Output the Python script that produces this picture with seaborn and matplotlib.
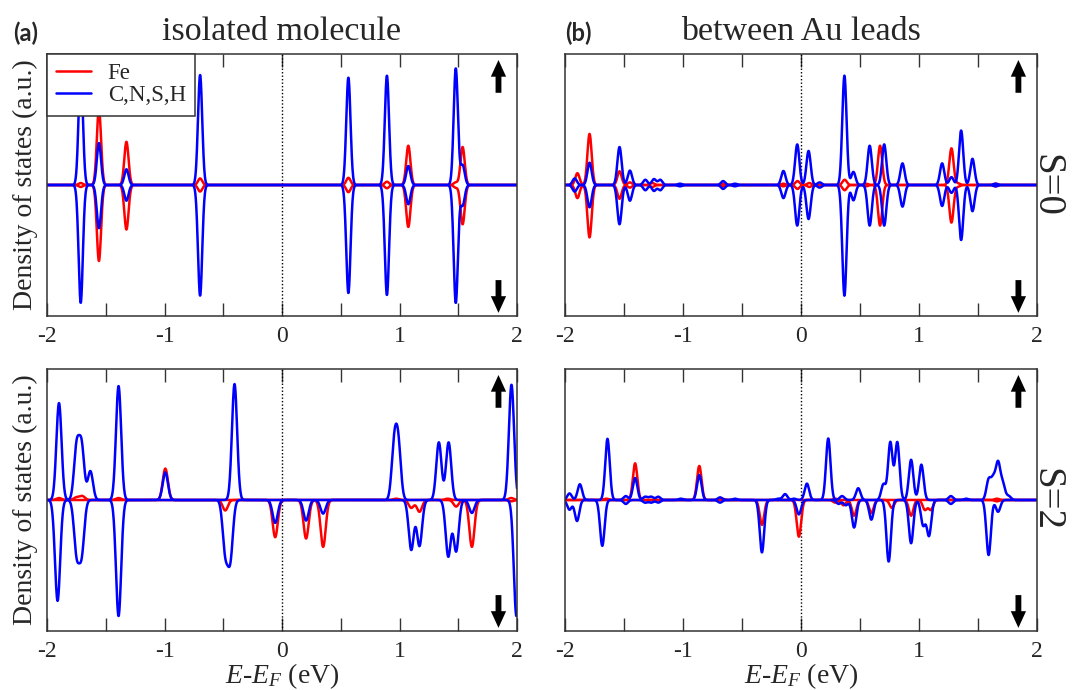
import numpy as np
import pandas as pd
import matplotlib
matplotlib.use("Agg")
import matplotlib.pyplot as plt
import seaborn as sns

# ---------------- data: peak energies (eV) and spin-up / spin-down weights ----------------
# (a) isolated molecule, S=0
a0_fe_E   = [-1.713, -1.558, -1.324, -0.697, 0.565, 0.893, 1.075, 1.479, 1.537]
a0_fe_up  = [0.015, 0.58, 0.33, 0.05, 0.055, 0.025, 0.30, 0.02, 0.29]
a0_fe_dn  = [0.015, 0.58, 0.34, 0.05, 0.055, 0.025, 0.32, 0.02, 0.30]
a0_org_E  = [-1.713, -1.558, -1.324, -0.697, 0.565, 0.893, 1.075, 1.479, 1.537]
a0_org_up = [0.90, 0.32, 0.12, 0.84, 0.82, 0.835, 0.145, 0.89, 0.15]
a0_org_dn = [0.90, 0.33, 0.12, 0.845, 0.825, 0.84, 0.147, 0.90, 0.155]

# (a) isolated molecule, S=2
a2_fe_E   = [-1.898, -1.75, -1.70, -1.391, -0.993, -0.483, -0.058, 0.205, 0.35, 0.972,
             1.10, 1.17, 1.41, 1.482, 1.616, 1.95]
a2_fe_up  = [0.015, 0.02, 0.03, 0.015, 0.24, 0.0, 0.0, 0.0, 0.0, 0.01,
             0.0, 0.0, 0.01, 0.0, 0.0, 0.015]
a2_fe_dn  = [0.0, 0.0, 0.0, 0.0, 0.0, 0.08, 0.284, 0.294, 0.358, 0.0,
             0.06, 0.09, 0.0, 0.05, 0.358, 0.01]
a2_org_E  = [-1.91, -1.898, -1.748, -1.705, -1.631, -1.391, -0.993, -0.483, -0.44, -0.404,
             -0.058, 0.205, 0.35, 0.955, 0.99, 1.10, 1.17, 1.335, 1.418, 1.415,
             1.482, 1.616, 1.953, 1.995]
a2_org_up = [0.0, 0.74, 0.40, 0.40, 0.22, 0.87, 0.21, 0.0, 0.0, 0.885,
             0.0, 0.0, 0.0, 0.40, 0.40, 0.0, 0.0, 0.44, 0.44, 0.0,
             0.0, 0.0, 0.88, 0.0]
a2_org_dn = [0.77, 0.0, 0.39, 0.39, 0.0, 0.886, 0.0, 0.38, 0.43, 0.0,
             0.175, 0.157, 0.104, 0.0, 0.0, 0.38, 0.35, 0.0, 0.0, 0.43,
             0.39, 0.099, 0.0, 0.886]

# (b) between Au leads, S=0
b0_fe_E   = [-1.895, -1.792, -1.538, -1.45, -1.26, -0.66, -0.15, -0.03, 0.07, 0.37,
             0.55, 0.67, 1.275, 1.33, 1.649]
b0_fe_up  = [0.09, 0.39, 0.105, 0.02, 0.015, 0.01, 0.01, 0.03, 0.015, 0.04,
             0.01, 0.30, 0.28, 0.012, 0.01]
b0_fe_dn  = [0.10, 0.40, 0.105, 0.02, 0.015, 0.01, 0.01, 0.03, 0.015, 0.04,
             0.01, 0.31, 0.287, 0.012, 0.01]
b0_org_E  = [-1.918, -1.792, -1.538, -1.45, -1.319, -1.246, -1.193, -1.026, -0.66, -0.56,
             -0.149, -0.032, 0.064, 0.158, 0.368, 0.444, 0.582, 0.705, 0.86, 1.196,
             1.275, 1.357, 1.453, 1.649]
b0_org_up = [0.05, 0.17, 0.29, 0.11, 0.04, 0.045, 0.04, 0.01, 0.03, 0.01,
             0.107, 0.31, 0.26, 0.02, 0.835, 0.10, 0.30, 0.31, 0.165, 0.165,
             0.06, 0.416, 0.20, 0.01]
b0_org_dn = [0.05, 0.17, 0.30, 0.12, 0.04, 0.045, 0.04, 0.01, 0.03, 0.01,
             0.10, 0.31, 0.26, 0.02, 0.845, 0.117, 0.31, 0.31, 0.165, 0.16,
             0.06, 0.42, 0.20, 0.01]

# (b) between Au leads, S=2
b2_fe_E   = [-1.65, -1.406, -0.862, -0.67, -0.331, -0.018, 0.29, 0.36, 0.45, 0.596,
             0.77, 0.933, 1.05, 1.10, 1.66]
b2_fe_up  = [0.01, 0.28, 0.26, 0.01, 0.0, 0.0, 0.01, 0.0, 0.0, 0.0,
             0.0, 0.0, 0.0, 0.0, 0.01]
b2_fe_dn  = [0.0, 0.0, 0.0, 0.0, 0.19, 0.28, 0.02, 0.04, 0.12, 0.10,
             0.06, 0.12, 0.075, 0.075, 0.01]
b2_org_E  = [-1.962, -1.898, -1.874, -1.684, -1.64, -1.485, -1.406, -1.32, -1.27, -1.21,
             -1.018, -0.862, -0.686, -0.56, -0.331, -0.193, -0.135, -0.06, -0.018, 0.05,
             0.231, 0.319, 0.348, 0.38, 0.45, 0.485, 0.596, 0.699, 0.743, 0.757,
             0.816, 0.933, 1.02, 1.035, 1.085, 1.27, 1.4, 1.59, 1.63, 1.67,
             1.71, 1.76]
b2_org_up = [0.05, 0.0, 0.12, 0.0, 0.467, 0.03, 0.168, 0.025, 0.025, 0.025,
             0.01, 0.19, 0.02, 0.01, 0.0, 0.01, 0.045, 0.01, 0.0, 0.125,
             0.47, 0.0, 0.03, 0.0, 0.0, 0.09, 0.0, 0.12, 0.0, 0.44,
             0.44, 0.307, 0.27, 0.0, 0.0, 0.03, 0.01, 0.15, 0.15, 0.27,
             0.12, 0.03]
b2_org_dn = [0.074, 0.16, 0.0, 0.35, 0.0, 0.03, 0.0, 0.02, 0.02, 0.02,
             0.0, 0.0, 0.02, 0.0, 0.40, 0.0, 0.0, 0.0, 0.11, 0.0,
             0.0, 0.03, 0.0, 0.04, 0.21, 0.0, 0.15, 0.0, 0.47, 0.0,
             0.0, 0.33, 0.0, 0.19, 0.27, 0.03, 0.0, 0.42, 0.0, 0.09,
             0.0, 0.0]

panel_titles = ["isolated molecule", "between Au leads"]
panel_tags = ["(a)", "(b)"]
spin_labels = ["S=0", "S=2"]
series_names = ["Fe", "C,N,S,H"]
xticks = [-2, -1, 0, 1, 2]
broadening = {"a0": 0.018, "a2": 0.022, "b0": 0.018, "b2": 0.019}

# ---------------- helpers ----------------
E = np.linspace(-2.0, 2.0, 2001)


def broadened(centers, weights, sigma):
    c = np.asarray(centers)[:, None]
    w = np.asarray(weights)[:, None]
    return (w * np.exp(-0.5 * ((E[None, :] - c) / sigma) ** 2)).sum(axis=0)


panels = {
    "a0": (a0_fe_E, a0_fe_up, a0_fe_dn, a0_org_E, a0_org_up, a0_org_dn),
    "a2": (a2_fe_E, a2_fe_up, a2_fe_dn, a2_org_E, a2_org_up, a2_org_dn),
    "b0": (b0_fe_E, b0_fe_up, b0_fe_dn, b0_org_E, b0_org_up, b0_org_dn),
    "b2": (b2_fe_E, b2_fe_up, b2_fe_dn, b2_org_E, b2_org_up, b2_org_dn),
}

# ---------------- style ----------------
sns.set_theme(style="white")
plt.rcParams["font.family"] = ["Liberation Serif", "DejaVu Serif"]
plt.rcParams["mathtext.fontset"] = "custom"
plt.rcParams["mathtext.rm"] = "Liberation Serif"
plt.rcParams["mathtext.it"] = "Liberation Serif:italic"
plt.rcParams["axes.unicode_minus"] = False

W, H = 1081, 690
fig = plt.figure(figsize=(W / 100, H / 100), dpi=100)
fig.patch.set_facecolor("white")

boxes = {  # left, top, right, bottom in pixels
    "a0": (47, 54, 517, 316),
    "b0": (565, 54, 1037, 316),
    "a2": (47, 369, 517, 631),
    "b2": (565, 369, 1037, 631),
}

RED = "#ff0000"
BLUE = "#0000ff"

axes = {}
for key, (l, t, r, b) in boxes.items():
    ax = fig.add_axes([l / W, 1 - b / H, (r - l) / W, (b - t) / H])
    axes[key] = ax
    fe_E, fe_up, fe_dn, org_E, org_up, org_dn = panels[key]
    s = broadening[key]
    curves = pd.DataFrame({
        "E": E,
        "fe_up": broadened(fe_E, fe_up, s),
        "fe_dn": -broadened(fe_E, fe_dn, s),
        "org_up": broadened(org_E, org_up, s),
        "org_dn": -broadened(org_E, org_dn, s),
    })
    sns.lineplot(data=curves, x="E", y="fe_up", ax=ax, color=RED, lw=1.8,
                 label=series_names[0] if key == "a0" else None, legend=False)
    sns.lineplot(data=curves, x="E", y="fe_dn", ax=ax, color=RED, lw=1.8, legend=False)
    sns.lineplot(data=curves, x="E", y="org_up", ax=ax, color=BLUE, lw=1.8,
                 label=series_names[1] if key == "a0" else None, legend=False)
    sns.lineplot(data=curves, x="E", y="org_dn", ax=ax, color=BLUE, lw=1.8, legend=False)

    ax.axvline(0, color="black", ls=(0, (1, 1.5)), lw=1.0, zorder=1)
    ax.set_xlim(-2, 2)
    ax.set_ylim(-1, 1)
    ax.set_xticks(xticks)
    ax.set_xticklabels([str(v) for v in xticks])
    ax.set_xticks([-1.5, -0.5, 0.5, 1.5], minor=True)
    ax.set_yticks([])
    ax.tick_params(axis="x", which="both", direction="in", top=True, bottom=True,
                   length=9.5, width=1.0, color="#333333", labelsize=17, pad=7)
    for sp in ax.spines.values():
        sp.set_color("#333333")
        sp.set_linewidth(1.1)
    ax.set_xlabel("")
    ax.set_ylabel("Density of states (a.u.)" if key.startswith("a") else "", fontsize=20)
    if key.startswith("a"):
        ax.yaxis.label.set_va("center")
        ax.yaxis.set_label_coords(-0.045, 0.5)
    if key.endswith("2"):
        ax.set_xlabel(r"$E$-$E_F$ (eV)", fontsize=20)
        ax.xaxis.set_label_coords(0.5, -0.115)

    # spin arrows
    arrow_kw = dict(facecolor="black", edgecolor="none", width=4.2, headwidth=11,
                    headlength=12, shrink=0)
    ax.annotate("", xy=(0.9606, 0.977), xytext=(0.9606, 0.852),
                xycoords="axes fraction", arrowprops=arrow_kw, zorder=6)
    ax.annotate("", xy=(0.9606, 0.012), xytext=(0.9606, 0.137),
                xycoords="axes fraction", arrowprops=arrow_kw, zorder=6)

# titles and tags
for key, title in zip(["a0", "b0"], panel_titles):
    axes[key].set_title(title, fontsize=24.5, pad=10)
fig.text(26 / W, 1 - 33 / H, panel_tags[0], fontsize=17, fontweight="bold",
         family=["Lato", "DejaVu Sans"], ha="center", va="center")
fig.text(578 / W, 1 - 33 / H, panel_tags[1], fontsize=17, fontweight="bold",
         family=["Lato", "DejaVu Sans"], ha="center", va="center")

# spin-state labels
fig.text(1046 / W, 1 - 185 / H, spin_labels[0], fontsize=28, rotation=-90,
         ha="center", va="center")
fig.text(1046 / W, 1 - 500 / H, spin_labels[1], fontsize=28, rotation=-90,
         ha="center", va="center")

# legend
leg = axes["a0"].legend(loc="upper left", bbox_to_anchor=(0, 1), borderaxespad=0,
                        fontsize=16.5, frameon=True, fancybox=False, framealpha=1,
                        edgecolor="#333333", handlelength=1.5, handletextpad=0.75,
                        labelspacing=0.05, borderpad=0.4)
leg.get_frame().set_linewidth(1.1)
leg.set_zorder(10)

fig.savefig("out.png", dpi=100, facecolor="white")
